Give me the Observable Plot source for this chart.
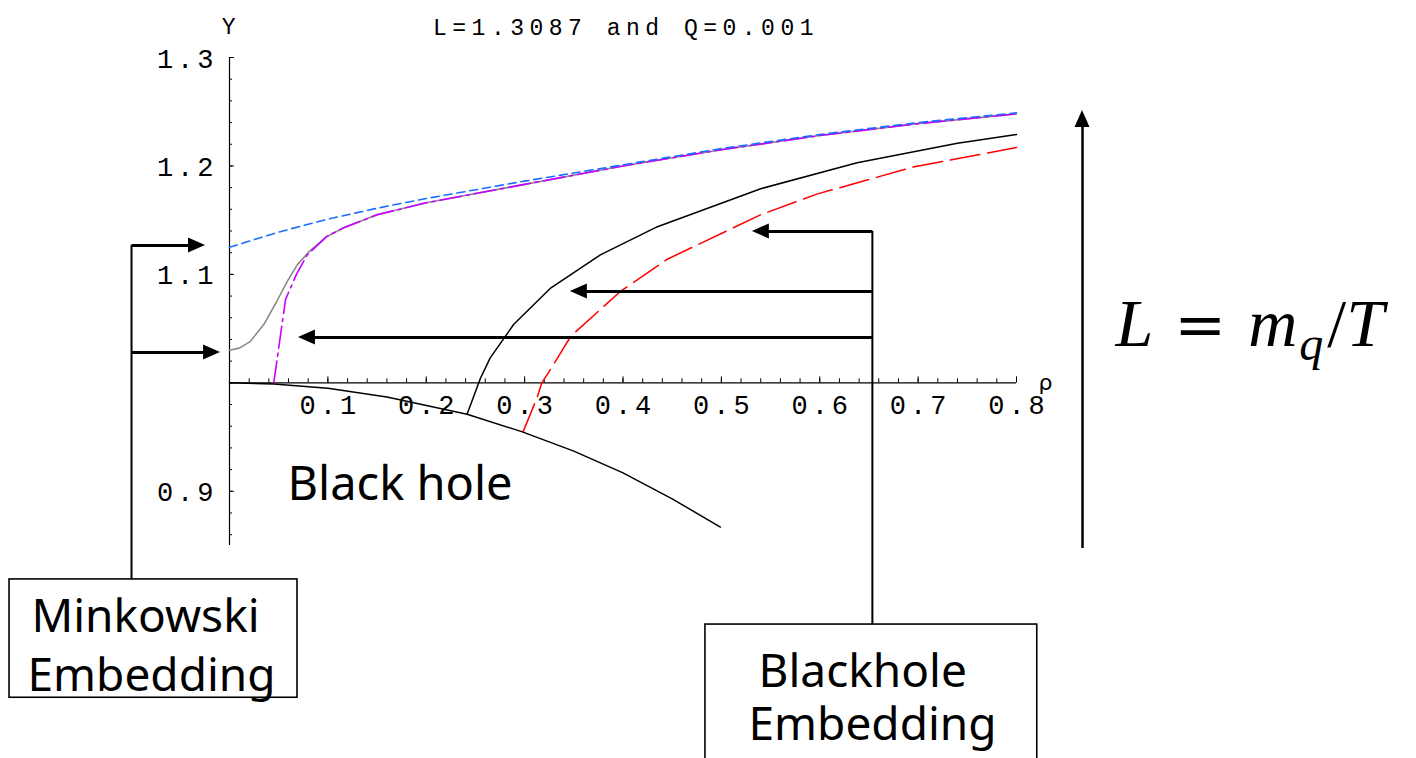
<!DOCTYPE html>
<html>
<head>
<meta charset="utf-8">
<script src="https://cdn.jsdelivr.net/npm/d3@7"></script>
<script src="https://cdn.jsdelivr.net/npm/@observablehq/plot@0.6"></script>
<style>
  html, body { margin: 0; padding: 0; background: #fff; overflow: hidden; }
  #chart svg { display: block; }
  /* Mathematica-style spaced monospace for ticks and title */
  g[font-family="Liberation Mono"] text { letter-spacing: 4px; }
  g[font-family="Liberation Mono, monospace"] text { letter-spacing: 5.5px; }
</style>
</head>
<body>
<div id="chart"></div>
<script>
// ---- Series: (rho, y) samples of each embedding ----
const horizon   = [[0,1.0],[0.045,0.999],[0.1,0.995],[0.16,0.987],[0.2415,0.971],[0.297,0.955],[0.35,0.937],[0.4,0.917],[0.45,0.893],[0.499,0.867]];
const grayCurve = [[0,1.030],[0.01,1.032],[0.021,1.038],[0.035,1.054],[0.048,1.075],[0.059,1.094],[0.069,1.109],[0.081,1.121],[0.099,1.135],[0.116,1.143],[0.15,1.155],[0.2,1.166],[0.3,1.183],[0.4,1.200],[0.5,1.215],[0.6,1.228],[0.7,1.239],[0.8,1.248]];
const magentaCurve = [[0.045,1.0],[0.057,1.077],[0.068,1.100],[0.079,1.118],[0.099,1.135],[0.116,1.143],[0.15,1.155],[0.2,1.166],[0.3,1.183],[0.4,1.200],[0.5,1.215],[0.6,1.228],[0.7,1.239],[0.8,1.248]];
const blueCurve = [[0,1.125],[0.05,1.139],[0.1,1.151],[0.15,1.161],[0.2,1.170],[0.3,1.186],[0.4,1.201],[0.5,1.216],[0.6,1.229],[0.7,1.240],[0.8,1.249]];
const blackCurve = [[0.2415,0.971],[0.255,1.004],[0.265,1.023],[0.289,1.054],[0.326,1.087],[0.377,1.118],[0.435,1.144],[0.54,1.179],[0.638,1.203],[0.74,1.221],[0.8,1.229]];
const redCurve = [[0.2985,0.955],[0.3125,0.986],[0.3175,1.0],[0.326,1.012],[0.347,1.043],[0.397,1.084],[0.445,1.114],[0.54,1.155],[0.597,1.174],[0.695,1.199],[0.8,1.217]];

// ---- Axis ticks and labels ----
const xMajorTicks = [0.1, 0.2, 0.3, 0.4, 0.5, 0.6, 0.7, 0.8];
const xTickLabels = ["0.1", "0.2", "0.3", "0.4", "0.5", "0.6", "0.7", "0.8"];
const yMajorTicks = [0.9, 1.0, 1.1, 1.2, 1.3];
const yLabelTicks = [0.9, 1.1, 1.2, 1.3];
const yTickLabels = ["0.9", "1.1", "1.2", "1.3"];
const titleText = "L=1.3087 and Q=0.001";
const xAxisLabel = "\u03c1";
const yAxisLabel = "Y";
const regionText = "Black hole";
const minkowskiText = ["Minkowski", "Embedding"];
const blackholeText = ["Blackhole", "Embedding"];
const formulaText = "L = mq/T";

// ---- Frame ----
const W = 1416, H = 758;
const M = {left: 229, right: 400, top: 57, bottom: 213};
const xDomain = [0, 0.8], yDomain = [0.85, 1.3];
const pxX = (xDomain[1] - xDomain[0]) / (W - M.left - M.right); // rho per pixel
const pxY = (yDomain[1] - yDomain[0]) / (H - M.top - M.bottom); // y per pixel

const xMinorTicks = d3.range(1, 41).map(i => +(i * 0.02).toFixed(2));
const yMinorTicks = d3.range(0, 23).map(i => +(0.86 + i * 0.02).toFixed(2));

// ---- Annotation layout (data units) ----
const mkX = -0.0996, bhX = 0.6535;
const mkPointers = [{from: mkX, to: -0.0244, y: 1.1266}, {from: mkX, to: -0.0091, y: 1.028}];
const bhPointers = [{from: bhX, to: 0.5315, y: 1.1396}, {from: bhX, to: 0.3465, y: 1.0842}, {from: bhX, to: 0.0701, y: 1.0418}];
const mkBox = {x1: -0.2236, x2: 0.0691, y1: 0.7096, y2: 0.8187};
const bhBox = {x1: 0.4838, x2: 0.8211, y1: 0.6508, y2: 0.7771};
const bigArrow = {x: 0.8671, y1: 0.8472, y2: 1.2511};

const headLen = 17 * pxX, headHalf = 7.5 * pxY;
const pointers = [...mkPointers, ...bhPointers].map((p, i) => {
  const dir = Math.sign(p.to - p.from);
  return {...p, id: i, base: p.to - dir * headLen, shaftEnd: p.to - dir * (headLen - 2 * pxX)};
});
const heads = pointers.flatMap(p => [
  {id: p.id, x: p.to, y1: p.y, y2: p.y},
  {id: p.id, x: p.base, y1: p.y - headHalf, y2: p.y + headHalf}
]);
const upHead = [
  {y: bigArrow.y2 - 17 * pxY, x1: bigArrow.x - 7.5 * pxX, x2: bigArrow.x + 7.5 * pxX},
  {y: bigArrow.y2, x1: bigArrow.x, x2: bigArrow.x}
];

const px = d => d[0], py = d => d[1];
const mono = "Liberation Mono";
const monoTitle = "Liberation Mono, monospace";
const sans = "Noto Sans";

const svg = Plot.plot({
  width: W, height: H,
  marginLeft: M.left, marginRight: M.right, marginTop: M.top, marginBottom: M.bottom,
  x: {domain: xDomain, axis: null},
  y: {domain: yDomain, axis: null},
  style: {background: "#fff"},
  marks: [
    // axes crossing at (0, 1)
    Plot.ruleX([0], {y1: yDomain[0], y2: yDomain[1], stroke: "#000", strokeWidth: 1.2}),
    Plot.ruleY([1], {x1: xDomain[0], x2: xDomain[1], stroke: "#000", strokeWidth: 1.2}),
    Plot.ruleX(xMinorTicks, {y1: 1, y2: 1 + 4 * pxY, stroke: "#000", strokeWidth: 1}),
    Plot.ruleX(xMajorTicks, {y1: 1, y2: 1 + 6 * pxY, stroke: "#000", strokeWidth: 1}),
    Plot.ruleY(yMinorTicks, {x1: 0, x2: 3 * pxX, stroke: "#000", strokeWidth: 1}),
    Plot.ruleY(yMajorTicks, {x1: 0, x2: 5 * pxX, stroke: "#000", strokeWidth: 1}),
    Plot.text(xTickLabels, {x: (d, i) => xMajorTicks[i], y: 1, dy: 31, dx: 2, lineAnchor: "bottom",
      fontFamily: mono, fontSize: 27, fill: "#000"}),
    Plot.text(yTickLabels, {x: 0, y: (d, i) => yLabelTicks[i], dx: -12, dy: 10, textAnchor: "end", lineAnchor: "bottom",
      fontFamily: mono, fontSize: 27, fill: "#000"}),
    Plot.text([titleText], {x: 0.4, y: 1.3, dx: 3, dy: -23, lineAnchor: "bottom", fontFamily: monoTitle, fontSize: 23, fill: "#000"}),
    Plot.text([yAxisLabel], {x: 0, y: 1.3, dx: 2, dy: -24, lineAnchor: "bottom", fontFamily: monoTitle, fontSize: 23, fill: "#000"}),
    Plot.text([xAxisLabel], {x: 0.8, y: 1, dx: 22, dy: 7, textAnchor: "start", lineAnchor: "bottom", fontFamily: "DejaVu Sans", fontSize: 22, fill: "#000"}),

    // embeddings
    Plot.line(grayCurve, {x: px, y: py, stroke: "#8a8a8a", strokeWidth: 1.6}),
    Plot.line(magentaCurve, {x: px, y: py, stroke: "#c800ff", strokeWidth: 1.6, strokeDasharray: "22,5,3,5"}),
    Plot.line(blueCurve, {x: px, y: py, stroke: "#1a6cff", strokeWidth: 1.6, strokeDasharray: "8,5"}),
    Plot.line(blackCurve, {x: px, y: py, stroke: "#000", strokeWidth: 1.5}),
    Plot.line(redCurve, {x: px, y: py, stroke: "#ff0000", strokeWidth: 1.5, strokeDasharray: "30,8"}),
    Plot.line(horizon, {x: px, y: py, stroke: "#000", strokeWidth: 1.5}),

    // annotation arrows, connectors and boxes
    Plot.link(pointers, {x1: "from", x2: "shaftEnd", y1: "y", y2: "y", stroke: "#000", strokeWidth: 3}),
    Plot.areaY(heads, {x: "x", y1: "y1", y2: "y2", z: "id", fill: "#000"}),
    Plot.ruleX([mkX], {y1: mkBox.y2, y2: mkPointers[0].y, stroke: "#000", strokeWidth: 2}),
    Plot.ruleX([bhX], {y1: bhBox.y2, y2: bhPointers[0].y, stroke: "#000", strokeWidth: 2}),
    Plot.rect([mkBox, bhBox], {x1: "x1", x2: "x2", y1: "y1", y2: "y2", fill: "none", stroke: "#000", strokeWidth: 1.6}),
    Plot.ruleX([bigArrow.x], {y1: bigArrow.y1, y2: bigArrow.y2 - 14 * pxY, stroke: "#000", strokeWidth: 2.5}),
    Plot.areaX(upHead, {y: "y", x1: "x1", x2: "x2", fill: "#000"}),

    // annotation text
    Plot.text([regionText], {x: 0.059, y: 0.8924, textAnchor: "start", lineAnchor: "bottom", fontFamily: sans, fontSize: 47, fill: "#000"}),
    Plot.text(minkowskiText, {x: (d, i) => [-0.2013, -0.2053][i], y: (d, i) => [0.7698, 0.7154][i], textAnchor: "start", lineAnchor: "bottom", fontFamily: sans, fontSize: 46, fill: "#000"}),
    Plot.text(blackholeText, {x: (d, i) => [0.5378, 0.5276][i], y: (d, i) => [0.7191, 0.6702][i], textAnchor: "start", lineAnchor: "bottom", fontFamily: sans, fontSize: 46, fill: "#000"}),
    Plot.text([formulaText], {x: 0.9006, y: 1.0341, textAnchor: "start", lineAnchor: "bottom", fontFamily: "Liberation Serif", fontSize: 68, fill: "#000"})
  ]
});

// typeset L = m_q / T with italic symbols and a subscript
const NS = "http://www.w3.org/2000/svg";
const formula = Array.from(svg.querySelectorAll("text")).find(t => t.textContent === formulaText);
if (formula) {
  formula.textContent = "";
  const parts = [
    {t: "L", italic: true},
    {t: "=", family: "DejaVu Serif", size: 62, dx: 21},
    {t: "m", italic: true, dx: 22},
    {t: "q", italic: true, size: 48, dy: 14, dx: 2},
    {t: "/", dy: -14, dx: 4},
    {t: "T", italic: true, dx: 0}
  ];
  for (const p of parts) {
    const s = document.createElementNS(NS, "tspan");
    s.textContent = p.t;
    s.setAttribute("font-style", p.italic ? "italic" : "normal");
    if (p.family) s.setAttribute("font-family", p.family);
    if (p.size) s.setAttribute("font-size", p.size);
    if (p.dx) s.setAttribute("dx", p.dx);
    if (p.dy) s.setAttribute("dy", p.dy);
    formula.appendChild(s);
  }
}

document.getElementById("chart").append(svg);
</script>
</body>
</html>
